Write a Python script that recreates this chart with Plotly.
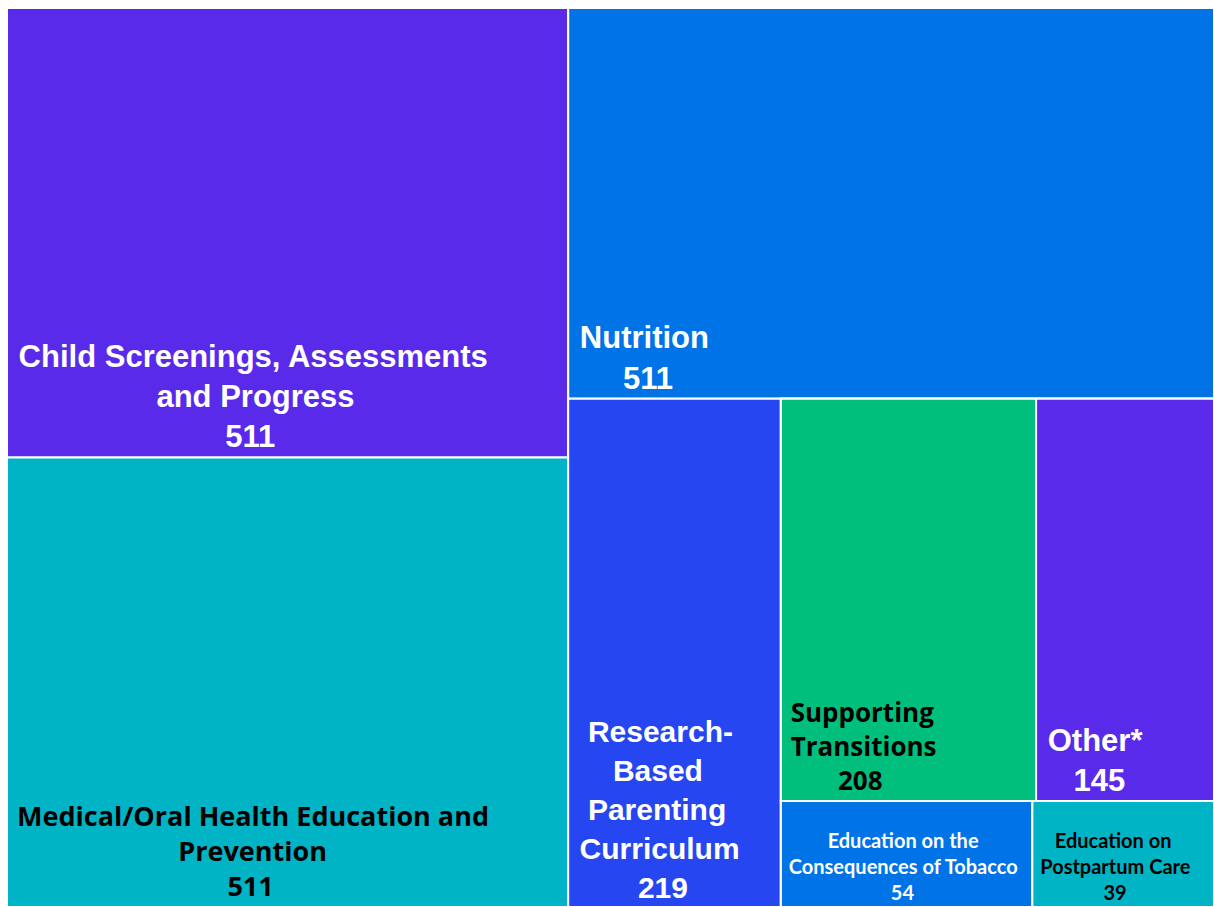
import plotly.graph_objects as go

# node table, in drawing order (children listed in the order they are tiled)
ids = ["left", "child", "medical", "right", "nutrition", "lower", "research",
       "block", "toprow", "supporting", "other", "botrow", "tobacco", "postpartum"]
parents = ["", "left", "left", "", "right", "right", "lower",
           "lower", "block", "toprow", "toprow", "block", "botrow", "botrow"]

# leaf labels and values
labels = {
    "child": ["Child Screenings, Assessments", "and Progress"],
    "medical": ["Medical/Oral Health Education and", "Prevention"],
    "nutrition": ["Nutrition"],
    "research": ["Research-", "Based", "Parenting", "Curriculum"],
    "supporting": ["Supporting", "Transitions"],
    "other": ["Other*"],
    "tobacco": ["Education on the", "Consequences of Tobacco"],
    "postpartum": ["Education on", "Postpartum Care"],
}
counts = {"child": 511, "medical": 511, "nutrition": 511, "research": 219,
          "supporting": 208, "other": 145, "tobacco": 54, "postpartum": 39}

colors = {"child": "#5A2AEB", "medical": "#00B4C5", "nutrition": "#0073E6", "research": "#2546F0",
          "supporting": "#00BF7D", "other": "#5A2AEB", "tobacco": "#0073E6", "postpartum": "#00B4C5"}
arial = "Liberation Sans"
gothic = "Open Sans"
calibri = "Lato"
styles = {  # font, size, colour
    "child": (arial, 31, "white"),
    "medical": (gothic, 27, "black"),
    "nutrition": (arial, 31, "white"),
    "research": (arial, 30, "white"),
    "supporting": (gothic, 26, "black"),
    "other": (arial, 31, "white"),
    "tobacco": (calibri, 20, "white"),
    "postpartum": (calibri, 20, "black"),
}
# leading non-breaking spaces per line so each line sits centred in its block
indent = {
    "child": [1, 17, 25],
    "medical": [1, 24, 31],
    "nutrition": [1, 6],
    "research": [2, 5, 2, 1, 8],
    "supporting": [1, 1, 8],
    "other": [1, 4],
    "tobacco": [9, 1, 22],
    "postpartum": [4, 1, 14],
}

NB = "\u00a0"


def total(node):
    if node in counts:
        return counts[node]
    return sum(total(c) for c, p in zip(ids, parents) if p == node)


values, texts, fams, sizes, fcols, fills = [], [], [], [], [], []
for node in ids:
    values.append(total(node))
    if node in counts:
        rows = labels[node] + [str(counts[node])]
        texts.append("<b>" + "<br>".join(NB * n + r for n, r in zip(indent[node], rows)) + "</b>")
        f, s, c = styles[node]
        fams.append(f)
        sizes.append(s)
        fcols.append(c)
        fills.append(colors[node])
    else:
        texts.append("")
        fams.append(arial)
        sizes.append(10)
        fcols.append("white")
        fills.append("white")

fig = go.Figure(go.Treemap(
    ids=ids,
    labels=ids,
    parents=parents,
    values=values,
    branchvalues="total",
    sort=False,
    text=texts,
    texttemplate="%{text}",
    textposition="bottom left",
    textfont=dict(family=fams, size=sizes, color=fcols),
    marker=dict(colors=fills, line=dict(color="white", width=2), pad=dict(t=0, l=0, r=0, b=0)),
    tiling=dict(packing="slice-dice", pad=0),
    pathbar=dict(visible=False),
    hoverinfo="skip",
))

fig.update_layout(
    width=1214, height=907,
    margin=dict(l=7, r=0, t=8, b=0),
    paper_bgcolor="white",
    showlegend=False,
)

fig.write_html(
    "out.html",
    config={"displayModeBar": False},
    post_script="document.body.style.margin='0';document.body.style.overflow='hidden';",
)
